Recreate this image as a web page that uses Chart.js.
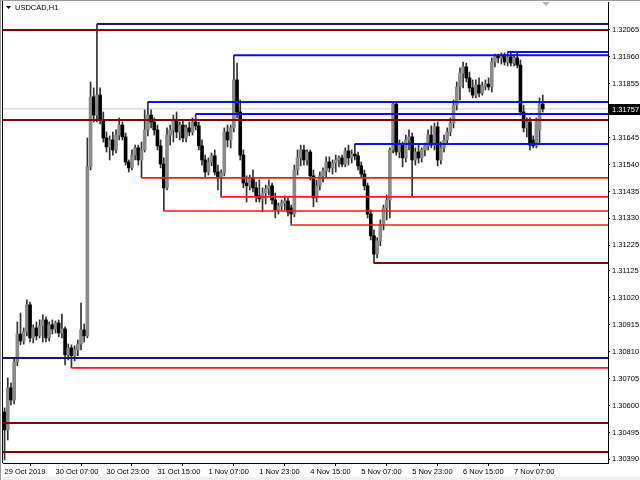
<!DOCTYPE html>
<html>
<head>
<meta charset="utf-8">
<script src="https://cdn.jsdelivr.net/npm/chart.js@4.4.1/dist/chart.umd.min.js"></script>
<style>
  html, body { margin: 0; padding: 0; background: #fff; }
  #wrap { width: 640px; height: 480px; position: relative; }
</style>
</head>
<body>
<div id="wrap"><canvas id="chart" width="640" height="480"></canvas></div>
<script>
// USDCAD H1, 29 Oct 15:00 .. 7 Nov 16:00
const symbol = 'USDCAD,H1';
const xTickLabels = ['29 Oct 2019', '30 Oct 07:00', '30 Oct 23:00', '31 Oct 15:00', '1 Nov 07:00',
    '1 Nov 23:00', '4 Nov 15:00', '5 Nov 07:00', '5 Nov 23:00', '6 Nov 15:00', '7 Nov 07:00'];
const yTickValues = [1.32065, 1.31960, 1.31855, 1.31645, 1.31540, 1.31435, 1.31330, 1.31225,
    1.31125, 1.31020, 1.30915, 1.30810, 1.30705, 1.30600, 1.30495, 1.30390];

const opens = [
    1.30575, 1.30505, 1.30669, 1.30622, 1.30770, 1.30879, 1.30852, 1.30887, 1.30993, 1.30864,
    1.30903, 1.30872, 1.30911, 1.30934, 1.30864, 1.30915, 1.30899, 1.30922, 1.30883, 1.30899,
    1.30798, 1.30825, 1.30794, 1.30817, 1.30840, 1.30895, 1.30872, 1.31531, 1.31804, 1.31733,
    1.31811, 1.31714, 1.31644, 1.31609, 1.31636, 1.31597, 1.31655, 1.31694, 1.31648, 1.31550,
    1.31527, 1.31577, 1.31605, 1.31558, 1.31597, 1.31675, 1.31733, 1.31706, 1.31675, 1.31613,
    1.31542, 1.31449, 1.31655, 1.31675, 1.31714, 1.31667, 1.31694, 1.31644, 1.31683, 1.31667,
    1.31706, 1.31691, 1.31613, 1.31558, 1.31511, 1.31550, 1.31574, 1.31511, 1.31488, 1.31507,
    1.31667, 1.31636, 1.31683, 1.31870, 1.31745, 1.31577, 1.31468, 1.31457, 1.31488, 1.31449,
    1.31418, 1.31406, 1.31429, 1.31445, 1.31457, 1.31402, 1.31363, 1.31379, 1.31390, 1.31398,
    1.31371, 1.31347, 1.31519, 1.31566, 1.31597, 1.31558, 1.31589, 1.31496, 1.31410, 1.31457,
    1.31496, 1.31515, 1.31550, 1.31527, 1.31546, 1.31558, 1.31566, 1.31542, 1.31593, 1.31566,
    1.31581, 1.31574, 1.31535, 1.31503, 1.31457, 1.31347, 1.31262, 1.31191, 1.31242, 1.31308,
    1.31371, 1.31402, 1.31597, 1.31776, 1.31589, 1.31616, 1.31566, 1.31636, 1.31648, 1.31558,
    1.31589, 1.31566, 1.31597, 1.31613, 1.31655, 1.31616, 1.31687, 1.31558, 1.31605, 1.31636,
    1.31667, 1.31702, 1.31772, 1.31843, 1.31897, 1.31921, 1.31878, 1.31839, 1.31811, 1.31850,
    1.31819, 1.31847, 1.31854, 1.31843, 1.31940, 1.31964, 1.31956, 1.31968, 1.31940, 1.31960,
    1.31936, 1.31956, 1.31928, 1.31745, 1.31683, 1.31706, 1.31636, 1.31613, 1.31675, 1.31776
];
const highs = [
    1.30591, 1.30708, 1.30688, 1.30786, 1.30926, 1.30961, 1.30903, 1.31012, 1.31004, 1.30915,
    1.30926, 1.30934, 1.30954, 1.30946, 1.30926, 1.30934, 1.30930, 1.30934, 1.30957, 1.30907,
    1.30840, 1.30837, 1.30833, 1.30856, 1.31000, 1.30918, 1.31644, 1.31862, 1.31839, 1.32088,
    1.31839, 1.31745, 1.31667, 1.31652, 1.31667, 1.31675, 1.31722, 1.31706, 1.31663, 1.31558,
    1.31597, 1.31616, 1.31616, 1.31628, 1.31753, 1.31784, 1.31753, 1.31722, 1.31694, 1.31636,
    1.31566, 1.31683, 1.31694, 1.31733, 1.31745, 1.31706, 1.31714, 1.31694, 1.31706, 1.31722,
    1.31737, 1.31706, 1.31636, 1.31577, 1.31566, 1.31585, 1.31597, 1.31538, 1.31519, 1.31683,
    1.31694, 1.31694, 1.31966, 1.31936, 1.31792, 1.31597, 1.31496, 1.31499, 1.31519, 1.31472,
    1.31480, 1.31449, 1.31460, 1.31480, 1.31468, 1.31429, 1.31390, 1.31402, 1.31418, 1.31410,
    1.31382, 1.31538, 1.31597, 1.31616, 1.31616, 1.31597, 1.31597, 1.31519, 1.31480, 1.31511,
    1.31527, 1.31570, 1.31570, 1.31558, 1.31577, 1.31574, 1.31577, 1.31605, 1.31616, 1.31597,
    1.31620, 1.31589, 1.31550, 1.31519, 1.31468, 1.31363, 1.31285, 1.31254, 1.31324, 1.31382,
    1.31421, 1.31605, 1.31784, 1.31784, 1.31636, 1.31628, 1.31655, 1.31675, 1.31663, 1.31605,
    1.31616, 1.31605, 1.31624, 1.31675, 1.31691, 1.31702, 1.31706, 1.31628, 1.31655, 1.31683,
    1.31722, 1.31792, 1.31862, 1.31917, 1.31940, 1.31936, 1.31901, 1.31870, 1.31870, 1.31878,
    1.31862, 1.31870, 1.31878, 1.31956, 1.31971, 1.31971, 1.31975, 1.31975, 1.31979, 1.31975,
    1.31968, 1.31975, 1.31948, 1.31772, 1.31722, 1.31722, 1.31652, 1.31722, 1.31800, 1.31811
];
const lows = [
    1.30388, 1.30466, 1.30603, 1.30606, 1.30755, 1.30837, 1.30840, 1.30872, 1.30848, 1.30844,
    1.30856, 1.30864, 1.30848, 1.30848, 1.30852, 1.30879, 1.30883, 1.30868, 1.30864, 1.30759,
    1.30778, 1.30747, 1.30774, 1.30794, 1.30817, 1.30848, 1.30864, 1.31519, 1.31706, 1.31706,
    1.31698, 1.31628, 1.31589, 1.31558, 1.31577, 1.31585, 1.31636, 1.31636, 1.31538, 1.31511,
    1.31519, 1.31558, 1.31538, 1.31488, 1.31589, 1.31652, 1.31683, 1.31655, 1.31597, 1.31527,
    1.31359, 1.31441, 1.31616, 1.31628, 1.31644, 1.31636, 1.31628, 1.31628, 1.31652, 1.31655,
    1.31675, 1.31597, 1.31538, 1.31488, 1.31499, 1.31535, 1.31499, 1.31441, 1.31414, 1.31496,
    1.31609, 1.31605, 1.31667, 1.31722, 1.31558, 1.31449, 1.31394, 1.31441, 1.31433, 1.31394,
    1.31394, 1.31355, 1.31386, 1.31421, 1.31386, 1.31332, 1.31347, 1.31363, 1.31363, 1.31340,
    1.31304, 1.31336, 1.31499, 1.31535, 1.31538, 1.31538, 1.31480, 1.31375, 1.31394, 1.31441,
    1.31472, 1.31488, 1.31511, 1.31503, 1.31511, 1.31531, 1.31531, 1.31531, 1.31538, 1.31546,
    1.31558, 1.31519, 1.31488, 1.31441, 1.31332, 1.31246, 1.31156, 1.31176, 1.31223, 1.31285,
    1.31324, 1.31332, 1.31585, 1.31577, 1.31566, 1.31531, 1.31550, 1.31597, 1.31418, 1.31538,
    1.31546, 1.31550, 1.31574, 1.31597, 1.31605, 1.31597, 1.31535, 1.31542, 1.31589, 1.31620,
    1.31652, 1.31683, 1.31753, 1.31792, 1.31839, 1.31862, 1.31823, 1.31800, 1.31800, 1.31804,
    1.31811, 1.31831, 1.31831, 1.31823, 1.31921, 1.31936, 1.31932, 1.31928, 1.31925, 1.31925,
    1.31925, 1.31917, 1.31733, 1.31667, 1.31648, 1.31597, 1.31605, 1.31605, 1.31624, 1.31745
];
const closes = [
    1.30505, 1.30669, 1.30622, 1.30770, 1.30879, 1.30852, 1.30887, 1.30993, 1.30864, 1.30903,
    1.30872, 1.30911, 1.30934, 1.30864, 1.30915, 1.30899, 1.30922, 1.30883, 1.30899, 1.30798,
    1.30825, 1.30794, 1.30817, 1.30840, 1.30895, 1.30872, 1.31531, 1.31804, 1.31733, 1.31811,
    1.31714, 1.31644, 1.31609, 1.31636, 1.31597, 1.31655, 1.31694, 1.31648, 1.31550, 1.31527,
    1.31577, 1.31605, 1.31558, 1.31597, 1.31675, 1.31733, 1.31706, 1.31675, 1.31613, 1.31542,
    1.31449, 1.31655, 1.31675, 1.31714, 1.31667, 1.31694, 1.31644, 1.31683, 1.31667, 1.31706,
    1.31691, 1.31613, 1.31558, 1.31511, 1.31550, 1.31574, 1.31511, 1.31488, 1.31507, 1.31667,
    1.31636, 1.31683, 1.31870, 1.31745, 1.31577, 1.31468, 1.31457, 1.31488, 1.31449, 1.31418,
    1.31406, 1.31429, 1.31445, 1.31457, 1.31402, 1.31363, 1.31379, 1.31390, 1.31398, 1.31355,
    1.31347, 1.31519, 1.31566, 1.31597, 1.31558, 1.31589, 1.31496, 1.31410, 1.31457, 1.31496,
    1.31515, 1.31550, 1.31527, 1.31546, 1.31558, 1.31566, 1.31542, 1.31593, 1.31566, 1.31581,
    1.31574, 1.31535, 1.31503, 1.31457, 1.31347, 1.31262, 1.31191, 1.31242, 1.31308, 1.31371,
    1.31402, 1.31597, 1.31776, 1.31589, 1.31616, 1.31566, 1.31636, 1.31648, 1.31558, 1.31589,
    1.31566, 1.31597, 1.31613, 1.31655, 1.31616, 1.31687, 1.31558, 1.31605, 1.31636, 1.31667,
    1.31702, 1.31772, 1.31843, 1.31897, 1.31921, 1.31878, 1.31839, 1.31811, 1.31850, 1.31819,
    1.31847, 1.31854, 1.31843, 1.31940, 1.31964, 1.31956, 1.31968, 1.31940, 1.31960, 1.31936,
    1.31956, 1.31928, 1.31745, 1.31683, 1.31706, 1.31616, 1.31613, 1.31706, 1.31776, 1.31757
];

// horizontal levels: start bar (-1 = whole width), price, kind
const levelStarts = [29, -1, 72, 158, 45, 60, -1, 110, 43, 68, 50, 90, 116, -1, 21, -1, -1];
const levelPrices = [1.32088, 1.32065, 1.31966, 1.31979, 1.31784, 1.31737, 1.31714, 1.31620, 1.31488,
    1.31414, 1.31359, 1.31304, 1.31156, 1.30786, 1.30747, 1.30532, 1.30419];
const levelKinds = ['navy', 'maroon', 'blue', 'blue', 'blue', 'blue', 'maroon', 'blue', 'red',
    'red', 'red', 'red', 'maroon', 'navy', 'red', 'maroon', 'maroon'];

const slots = 190; // bars that fit incl. right shift
const lastPrice = closes[closes.length - 1];

const kindColor = { navy: '#1a1a66', maroon: '#7a0a0a', blue: '#1010ee', red: '#ff1a1a' };
const bullFill = '#8a8a8a';
const bearFill = '#000000';
const font = '"Liberation Sans", Arial, sans-serif';

const levelSets = levelStarts.map((s, k) => ({
    type: 'line',
    data: [{ x: s < 0 ? -0.5 : s, y: levelPrices[k] }, { x: slots - 0.5, y: levelPrices[k] }],
    borderColor: kindColor[levelKinds[k]],
    borderWidth: levelKinds[k] === 'red' ? 1.6 : 2,
    pointRadius: 0,
    order: 0
}));

const bidLine = {
    type: 'line',
    data: [{ x: -0.5, y: lastPrice }, { x: slots - 0.5, y: lastPrice }],
    borderColor: '#c8c8c8',
    borderWidth: 1,
    pointRadius: 0,
    order: 3
};

const isBull = opens.map((o, i) => closes[i] >= o);

const wicks = {
    type: 'bar',
    data: highs.map((h, i) => ({ x: i, y: [lows[i], h] })),
    backgroundColor: '#303030',
    barThickness: 1,
    grouped: false,
    order: 2
};
const bodies = {
    type: 'bar',
    data: opens.map((o, i) => ({ x: i, y: [o, closes[i]] })),
    backgroundColor: isBull.map(b => b ? bullFill : bearFill),
    borderWidth: 0,
    barThickness: 3,
    minBarLength: 1,
    grouped: false,
    order: 1
};

const frame = {
    id: 'frame',
    afterDraw(chart) {
        const ctx = chart.ctx;
        const a = chart.chartArea;
        const yS = chart.scales.y;
        ctx.save();
        // window edges
        ctx.strokeStyle = '#9a9a9a';
        ctx.lineWidth = 1;
        ctx.beginPath();
        ctx.moveTo(0.5, 0); ctx.lineTo(0.5, 480);
        ctx.moveTo(0, 0.5); ctx.lineTo(640, 0.5);
        ctx.stroke();
        ctx.strokeStyle = '#000';
        ctx.beginPath();
        ctx.moveTo(2.5, 1); ctx.lineTo(2.5, a.bottom);
        ctx.stroke();
        ctx.fillStyle = '#f0f0f0';
        ctx.fillRect(3, 477, 637, 3);
        // title
        ctx.fillStyle = '#000';
        ctx.beginPath();
        ctx.moveTo(6, 6); ctx.lineTo(11, 6); ctx.lineTo(8.5, 9);
        ctx.closePath(); ctx.fill();
        ctx.font = '7.5px ' + font;
        ctx.textBaseline = 'middle';
        ctx.textAlign = 'left';
        ctx.fillText(symbol, 15, 8);
        // shift marker
        ctx.fillStyle = '#b4b4b4';
        ctx.beginPath();
        ctx.moveTo(542, 2); ctx.lineTo(550, 2); ctx.lineTo(546, 6);
        ctx.closePath(); ctx.fill();
        // bid label
        const py = Math.round(yS.getPixelForValue(lastPrice));
        ctx.fillStyle = '#000';
        ctx.fillRect(a.right + 1, py - 5, 640 - a.right, 11);
        ctx.fillStyle = '#fff';
        ctx.fillText(lastPrice.toFixed(5), a.right + 4, py + 0.5);
        ctx.restore();
    }
};

new Chart(document.getElementById('chart'), {
    data: { datasets: [...levelSets, bidLine, bodies, wicks] },
    options: {
        responsive: false,
        animation: false,
        events: [],
        layout: { padding: { left: 3, top: 2, right: 0, bottom: 0 } },
        plugins: { legend: { display: false }, tooltip: { enabled: false } },
        scales: {
            x: {
                type: 'linear',
                min: -0.5,
                max: slots - 0.5,
                offset: false,
                afterFit: s => { s.height = 17; s.paddingLeft = 0; s.paddingRight = 0; },
                afterBuildTicks: s => { s.ticks = xTickLabels.map((t, k) => ({ value: k * 16 })); },
                ticks: {
                    autoSkip: false,
                    maxRotation: 0,
                    align: 'start',
                    padding: 1,
                    color: '#000',
                    font: { family: font, size: 7.5 },
                    callback: v => xTickLabels[Math.round(v / 16)]
                },
                grid: { drawOnChartArea: false, tickLength: 3, color: '#000' },
                border: { color: '#000', width: 1 }
            },
            y: {
                type: 'linear',
                position: 'right',
                min: 1.30376,
                max: 1.32174,
                afterFit: s => { s.width = 32; s.paddingTop = 0; s.paddingBottom = 0; },
                afterBuildTicks: s => { s.ticks = yTickValues.map(v => ({ value: v })); },
                ticks: {
                    autoSkip: false,
                    padding: 2,
                    color: '#000',
                    font: { family: font, size: 7.5 },
                    callback: v => v.toFixed(5)
                },
                grid: { drawOnChartArea: false, tickLength: 2, color: '#000' },
                border: { color: '#000', width: 1 }
            }
        }
    },
    plugins: [frame]
});
</script>
</body>
</html>
